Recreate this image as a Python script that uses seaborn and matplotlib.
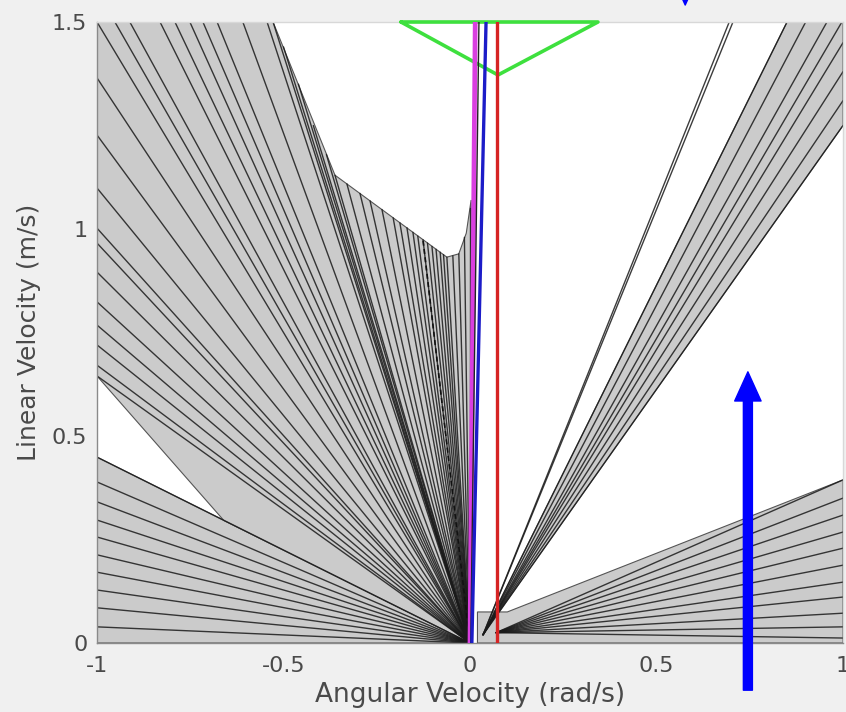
import numpy as np
import pandas as pd
import matplotlib
matplotlib.use("Agg")
import matplotlib.pyplot as plt
import seaborn as sns

# ---------------- data ----------------
LEFT_ORIGIN = (0.0, 0.0)
RIGHT_ORIGIN = (0.035, 0.02)
RIGHT_LOW_ORIGIN = (0.07, 0.025)

# lower-left fan: rays to the left edge (x=-1)
left_low_edge_y = [0.449, 0.389, 0.341, 0.297, 0.256, 0.213, 0.171, 0.128, 0.085, 0.039]

# upper-left fan: rays to left edge, top edge, slanted edge and lower edge
upper_left_edge_y = [0.645, 0.671, 0.720, 0.768, 0.824, 0.896, 0.966, 1.002, 1.099, 1.227, 1.365, 1.5]
upper_top_x = [-0.952, -0.912, -0.831, -0.791, -0.751, -0.716, -0.678, -0.609, -0.544, -0.528]
slant_x = [-0.50, -0.46, -0.42, -0.385, -0.362]
slant_y = [1.44, 1.35, 1.25, 1.18, 1.13]
inner_x = [-0.330, -0.295, -0.268, -0.236, -0.206, -0.188, -0.169, -0.153, -0.140, -0.126,
           -0.114, -0.102, -0.091, -0.080, -0.071, -0.062, -0.046, -0.030, -0.015, 0.0]
inner_y = [1.109, 1.086, 1.068, 1.047, 1.027, 1.015, 1.003, 0.992, 0.983, 0.974,
           0.966, 0.958, 0.951, 0.944, 0.938, 0.932, 0.935, 0.940, 0.980, 1.05]
dashed_end = (-0.126, 0.974)

# upper-left fan outline
upper_poly_x = [0.0, -0.66, -1.0, -1.0, -0.528, -0.362, -0.062, -0.030, -0.010, 0.003, 0.006]
upper_poly_y = [0.0, 0.296, 0.645, 1.5, 1.5, 1.13, 0.932, 0.940, 0.990, 1.07, 0.0]

# lower-left fan outline
lowleft_poly_x = [0.0, -1.0, -1.0]
lowleft_poly_y = [0.0, 0.449, 0.0]

# right upper band
band_top_x = [0.695, 0.705, 0.85, 0.90, 0.957, 0.997]
band_right_y = [1.45, 1.38, 1.31, 1.25]
band_poly_x = [0.035, 0.85, 1.0, 1.0]
band_poly_y = [0.02, 1.5, 1.5, 1.25]

# right lower fan
right_low_edge_y = [0.394, 0.350, 0.309, 0.268, 0.229, 0.188, 0.147, 0.111, 0.072, 0.039, 0.012]
rlow_poly_x = [0.02, 0.02, 0.10, 1.0, 1.0]
rlow_poly_y = [0.0, 0.075, 0.075, 0.394, 0.0]

# green triangle
tri_x = [-0.185, 0.343, 0.075, -0.185]
tri_y = [1.5, 1.5, 1.372, 1.5]

# coloured velocity lines
magenta_x = [0.0, 0.014]
magenta_y = [0.0, 1.5]
thin_x = [0.002, 0.024]
thin_y = [0.0, 1.5]
blue_x = [0.005, 0.043]
blue_y = [0.0, 1.5]
red_x = [0.072, 0.072]
red_y = [0.0, 1.5]

# arrows (tail, tip)
arrow_low = ((0.745, -0.114), (0.745, 0.655))
arrow_top = ((0.577, 1.70), (0.577, 1.541))

# ---------------- build segments ----------------
segs = []
def add(o, ex, ey):
    for x, y in zip(ex, ey):
        segs.append((o, (x, y)))

add(LEFT_ORIGIN, [-1.0] * len(left_low_edge_y), left_low_edge_y)
add(LEFT_ORIGIN, [-1.0] * len(upper_left_edge_y), upper_left_edge_y)
add(LEFT_ORIGIN, upper_top_x, [1.5] * len(upper_top_x))
add(LEFT_ORIGIN, slant_x, slant_y)
add(LEFT_ORIGIN, inner_x, inner_y)
add(RIGHT_ORIGIN, band_top_x, [1.5] * len(band_top_x))
add(RIGHT_ORIGIN, [1.0] * len(band_right_y), band_right_y)
add(RIGHT_LOW_ORIGIN, [1.0] * len(right_low_edge_y), right_low_edge_y)

rows = []
for i, (o, e) in enumerate(segs):
    rows.append({"seg": i, "x": o[0], "y": o[1]})
    rows.append({"seg": i, "x": e[0], "y": e[1]})
df = pd.DataFrame(rows)

# ---------------- plot ----------------
sns.set_theme(style="white")
plt.rcParams["font.family"] = ["DejaVu Sans"]

fig = plt.figure(figsize=(8.46, 7.12), dpi=100, facecolor="#f0f0f0")
ax = fig.add_axes([97 / 846, 69 / 712, (843 - 97) / 846, (643 - 22) / 712])
ax.set_facecolor("white")

fill_c = "#cbcbcb"
edge_c = "#555555"
for px, py in [(lowleft_poly_x, lowleft_poly_y), (upper_poly_x, upper_poly_y),
               (band_poly_x, band_poly_y), (rlow_poly_x, rlow_poly_y)]:
    ax.fill(px, py, facecolor=fill_c, edgecolor=edge_c, lw=0.8, zorder=1)

sns.lineplot(data=df, x="x", y="y", units="seg", estimator=None, sort=False,
             color="#1a1a1a", lw=1.0, alpha=0.85, ax=ax, legend=False, zorder=2)

dash_df = pd.DataFrame({"x": [LEFT_ORIGIN[0], dashed_end[0]], "y": [LEFT_ORIGIN[1], dashed_end[1]]})
sns.lineplot(data=dash_df, x="x", y="y", sort=False, estimator=None, color="#111111",
             lw=1.2, linestyle=(0, (3, 2)), ax=ax, zorder=2)

tri_df = pd.DataFrame({"x": tri_x, "y": tri_y})
sns.lineplot(data=tri_df, x="x", y="y", sort=False, estimator=None, color="#3ee03e",
             lw=2.6, ax=ax, zorder=4, clip_on=False)

for xs, ys, c, w in [(magenta_x, magenta_y, "#d93fe0", 3.4),
                     (thin_x, thin_y, "#222222", 1.0),
                     (blue_x, blue_y, "#1c1cc8", 2.4),
                     (red_x, red_y, "#d62424", 2.4)]:
    sns.lineplot(data=pd.DataFrame({"x": xs, "y": ys}), x="x", y="y", sort=False,
                 estimator=None, color=c, lw=w, ax=ax, zorder=5)

for tail, tip in [arrow_low, arrow_top]:
    ax.annotate("", xy=tip, xytext=tail, xycoords="data", textcoords="data",
                annotation_clip=False,
                arrowprops=dict(facecolor="#0000ff", edgecolor="#0000ff",
                                width=6.5, headwidth=19, headlength=21, shrink=0),
                zorder=6)

ax.set_xlim(-1, 1)
ax.set_ylim(0, 1.5)
ax.set_xticks([-1, -0.5, 0, 0.5, 1])
ax.set_xticklabels(["-1", "-0.5", "0", "0.5", "1"])
ax.set_yticks([0, 0.5, 1, 1.5])
ax.set_yticklabels(["0", "0.5", "1", "1.5"])
ax.tick_params(axis="both", direction="in", length=5, width=0.8, color="#777777",
               labelsize=16, labelcolor="#4a4a4a", pad=7)
ax.tick_params(axis="x", pad=9)
ax.set_xlabel("Angular Velocity (rad/s)", fontsize=19, color="#4a4a4a", labelpad=5)
ax.set_ylabel("Linear Velocity (m/s)", fontsize=18, color="#4a4a4a", labelpad=8)
for name, s in ax.spines.items():
    s.set_visible(True)
    s.set_linewidth(1.0)
    s.set_color("#8a8a8a" if name in ("left", "bottom") else "#d8d8d8")

fig.savefig("out.png", dpi=100, facecolor=fig.get_facecolor())
